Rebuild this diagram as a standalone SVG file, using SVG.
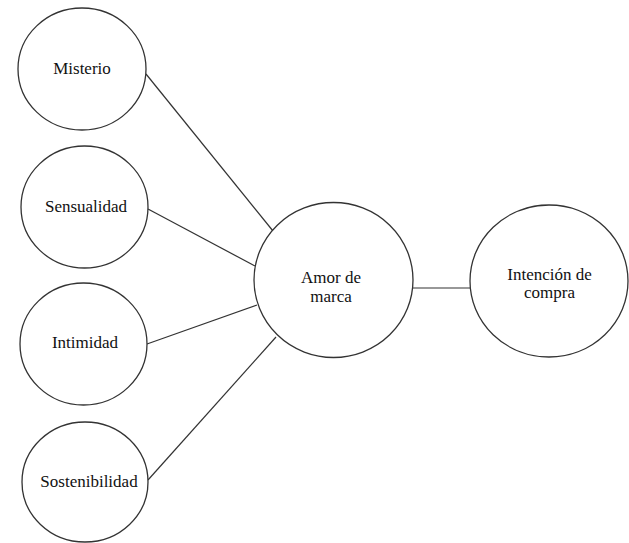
<svg xmlns="http://www.w3.org/2000/svg" width="629" height="543" viewBox="0 0 629 543">
<style>
.n{fill:#fff;stroke:#333;stroke-width:1.3}
.c line{stroke:#333;stroke-width:1.2}
text{font-size:17px;fill:#111;text-anchor:middle;font-family:'Liberation Serif','Times New Roman','DejaVu Serif',serif}
</style>
<rect width="629" height="543" fill="#fff"/>
<g id="connectors" class="c">
<line x1="146" y1="74" x2="273" y2="231"/>
<line x1="148" y1="209" x2="255" y2="266"/>
<line x1="147" y1="344" x2="257" y2="305"/>
<line x1="148" y1="480" x2="276" y2="337"/>
<line x1="413" y1="288" x2="470" y2="288"/>
</g>
<g id="misterio"><ellipse class="n" cx="82" cy="69" rx="64" ry="61"/><text x="82" y="74">Misterio</text></g>
<g id="sensualidad"><ellipse class="n" cx="84.5" cy="207" rx="63.5" ry="61"/><text x="86" y="212">Sensualidad</text></g>
<g id="intimidad"><ellipse class="n" cx="83.5" cy="344" rx="63.5" ry="61"/><text x="85" y="348">Intimidad</text></g>
<g id="sostenibilidad"><ellipse class="n" cx="85" cy="482" rx="63" ry="60"/><text x="89" y="487">Sostenibilidad</text></g>
<g id="amor"><ellipse class="n" cx="333.5" cy="280" rx="79.5" ry="77.5"/><text x="331" y="283">Amor de</text><text x="331" y="302">marca</text></g>
<g id="intencion"><ellipse class="n" cx="549" cy="281" rx="79" ry="76"/><text x="549.5" y="280">Intención de</text><text x="549.5" y="298">compra</text></g>
</svg>
